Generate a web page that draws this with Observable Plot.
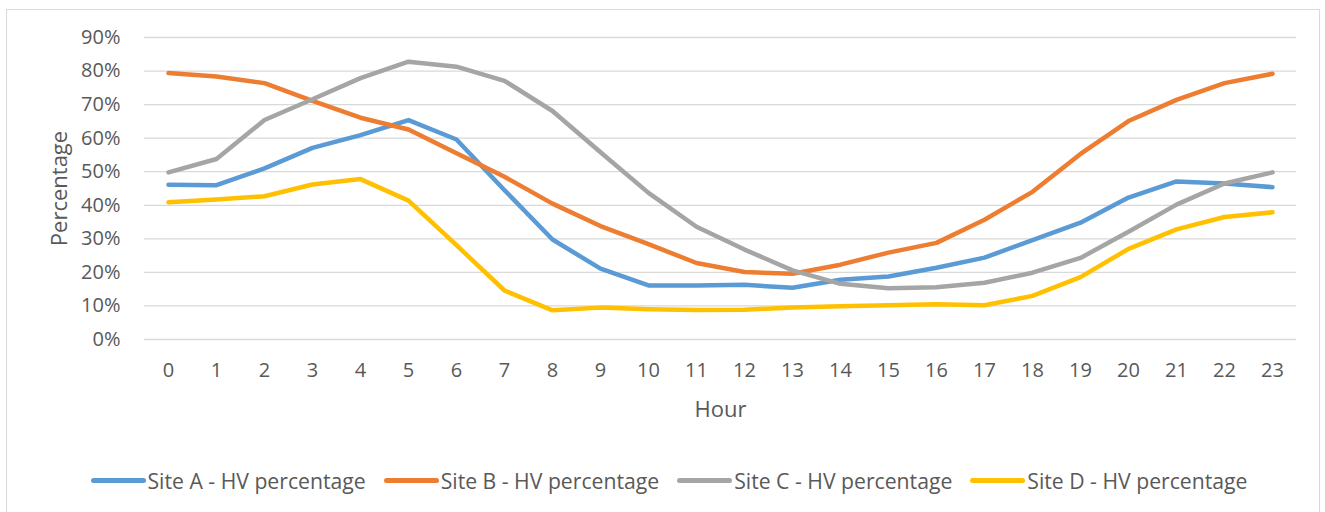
<!DOCTYPE html>
<html>
<head>
<meta charset="utf-8">
<script src="https://cdn.jsdelivr.net/npm/d3@7"></script>
<script src="https://cdn.jsdelivr.net/npm/@observablehq/plot@0.6"></script>
<style>
  html, body { margin: 0; padding: 0; background: #fff; width: 1325px; height: 512px; overflow: hidden; }
  #frame { position: absolute; left: 6px; top: 9px; width: 1314px; height: 520px; border: 1px solid #d9d9d9; box-sizing: border-box; }
  #chart { position: absolute; left: 0; top: 0; }
  #legend { position: absolute; left: 6px; width: 1326px; top: 466px; display: flex; justify-content: center; align-items: center;
            font-family: "Open Sans", sans-serif; font-size: 21.2px; color: #595959; }
  .item { display: flex; align-items: center; margin-right: 18px; }
  .item:last-child { margin-right: 0; }
  .sw { width: 55px; height: 5px; border-radius: 3px; margin-right: 2px; }
</style>
</head>
<body>
<div id="frame"></div>
<div id="chart"></div>
<div id="legend"></div>
<script>
const hours = d3.range(0, 24);
const seriesNames = ["Site A - HV percentage", "Site B - HV percentage", "Site C - HV percentage", "Site D - HV percentage"];
const seriesColors = ["#5b9bd5", "#ed7d31", "#a5a5a5", "#ffc000"];
const siteA = [46.1,46.0,51.0,57.1,60.9,65.4,59.6,44.5,29.8,21.1,16.1,16.1,16.3,15.4,17.8,18.8,21.4,24.4,29.6,34.8,42.3,47.1,46.5,45.4];
const siteB = [79.4,78.4,76.4,71.1,66.1,62.6,55.5,48.5,40.5,33.8,28.4,22.8,20.1,19.6,22.3,25.9,28.8,35.7,44.0,55.3,65.1,71.4,76.4,79.2];
const siteC = [49.8,53.8,65.4,71.6,77.9,82.8,81.3,77.1,68.1,55.8,43.7,33.6,26.8,20.6,16.6,15.3,15.6,16.9,19.9,24.3,32.1,40.2,46.5,49.8];
const siteD = [40.9,41.7,42.7,46.2,47.8,41.4,28.1,14.6,8.7,9.5,9.0,8.8,8.9,9.5,9.9,10.2,10.5,10.2,13.0,18.6,27.0,32.8,36.5,37.9];
const yTicks = [0, 0.1, 0.2, 0.3, 0.4, 0.5, 0.6, 0.7, 0.8, 0.9];

const allSeries = [siteA, siteB, siteC, siteD];
const data = [];
allSeries.forEach((vals, i) => vals.forEach((v, h) => data.push({ hour: hours[h], value: v / 100, site: seriesNames[i] })));

const chart = Plot.plot({
  width: 1325,
  height: 440,
  marginLeft: 144,
  marginRight: 29,
  marginTop: 37,
  marginBottom: 101,
  style: { fontFamily: "Open Sans, sans-serif", fontSize: "20px", color: "#595959", background: "transparent", overflow: "visible" },
  x: { type: "point", domain: hours, padding: 0.5 },
  y: { domain: [0, 0.9] },
  color: { domain: seriesNames, range: seriesColors },
  marks: [
    Plot.gridY(yTicks, { stroke: "#d9d9d9", strokeOpacity: 1, strokeWidth: 1.3 }),
    Plot.axisY(yTicks, { tickSize: 0, tickPadding: 24, tickFormat: d => Math.round(d * 100) + "%", label: null, fill: "#595959" }),
    Plot.axisX(hours, { tickSize: 0, tickPadding: 23, label: null, fill: "#595959" }),
    Plot.text(["Percentage"], { frameAnchor: "left", dx: -85, rotate: -90, textAnchor: "middle", lineAnchor: "middle", fontSize: 22, fill: "#595959" }),
    Plot.text(["Hour"], { frameAnchor: "bottom", dy: 70, textAnchor: "middle", lineAnchor: "middle", fontSize: 22, fill: "#595959" }),
    Plot.line(data, { x: "hour", y: "value", z: "site", stroke: "site", strokeWidth: 4.5, strokeLinecap: "round", strokeLinejoin: "round" })
  ]
});
document.getElementById("chart").appendChild(chart);

const legend = document.getElementById("legend");
seriesNames.forEach((name, i) => {
  const item = document.createElement("div");
  item.className = "item";
  const sw = document.createElement("div");
  sw.className = "sw";
  sw.style.background = seriesColors[i];
  const label = document.createElement("span");
  label.textContent = name;
  item.appendChild(sw);
  item.appendChild(label);
  legend.appendChild(item);
});
</script>
</body>
</html>
